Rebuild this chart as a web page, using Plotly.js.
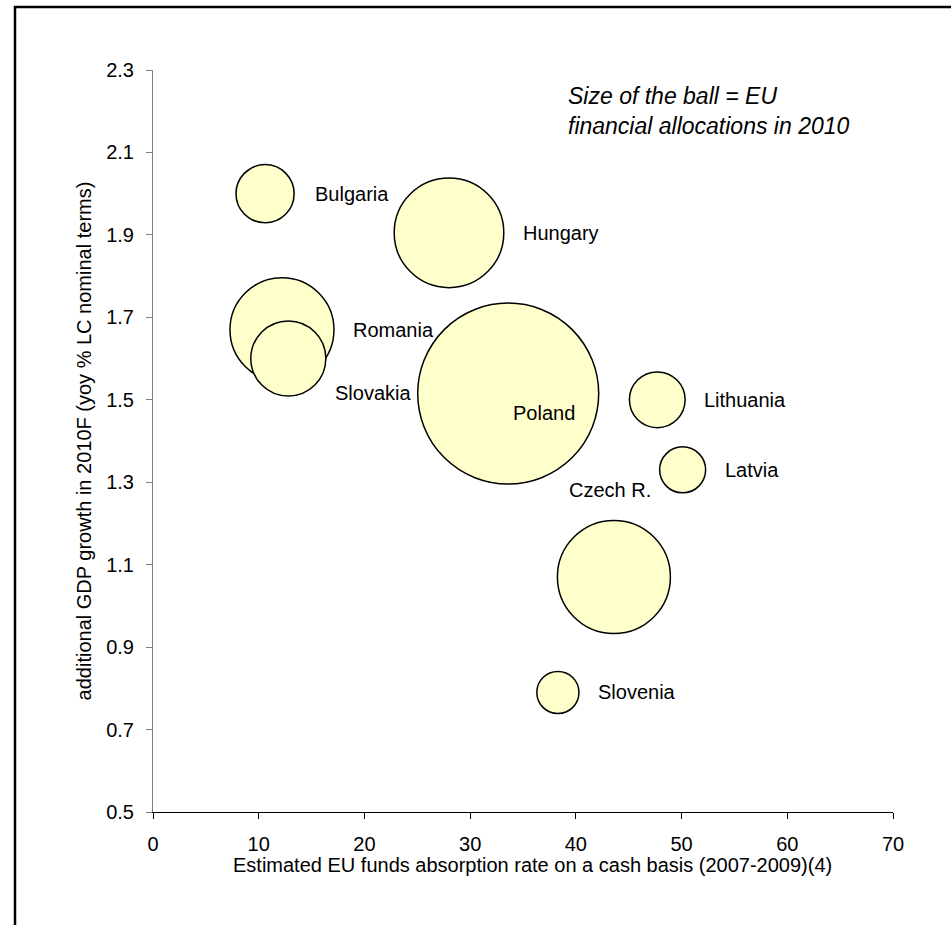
<!DOCTYPE html>
<html>
<head>
<meta charset="utf-8">
<script src="https://cdn.plot.ly/plotly-3.0.1.min.js"></script>
<style>html,body{margin:0;padding:0;background:#fff;}#chart{width:951px;height:925px;}</style>
</head>
<body>
<div id="chart"></div>
<script>
// Data
const countries = ["Bulgaria", "Hungary", "Romania", "Slovakia", "Poland", "Lithuania", "Latvia", "Czech R.", "Slovenia"];
const absorptionRate = [10.6, 28.0, 12.2, 12.8, 33.6, 47.7, 50.1, 43.6, 38.3];
const gdpGrowth = [2.00, 1.905, 1.67, 1.60, 1.515, 1.50, 1.33, 1.07, 0.79];
const euAllocations = [0.99, 3.52, 3.17, 1.65, 9.6, 0.91, 0.62, 3.74, 0.52];
const xTicks = [0, 10, 20, 30, 40, 50, 60, 70];
const yTicks = [0.5, 0.7, 0.9, 1.1, 1.3, 1.5, 1.7, 1.9, 2.1, 2.3];
const xTitle = "Estimated EU funds absorption rate on a cash basis (2007-2009)(4)";
const yTitle = "additional GDP growth in 2010F (yoy % LC nominal terms)";

// Label placement (styling, px offsets from bubble centre)
const labelAnchor = ["left", "left", "left", "left", "center", "left", "left", "center", "left"];
const labelDx = [48, 72, 69, 45, 36, 45, 40, -4, 38];
const labelDy = [0, 0, 0, -34, -19, 0, 0, 87, 0];

const FONT = "Arial, 'Liberation Sans', sans-serif";
const maxDiameter = 181;

const trace = {
  type: "scatter",
  mode: "markers",
  x: absorptionRate,
  y: gdpGrowth,
  text: countries,
  cliponaxis: false,
  hoverinfo: "text",
  marker: {
    size: euAllocations,
    sizemode: "area",
    sizeref: 2 * Math.max(...euAllocations) / (maxDiameter * maxDiameter),
    color: "#FFFFCC",
    opacity: 1,
    line: { color: "#000000", width: 1.5 }
  },
  showlegend: false
};

const annotations = countries.map((c, i) => ({
  x: absorptionRate[i], y: gdpGrowth[i], xref: "x", yref: "y",
  text: c, showarrow: false, xanchor: labelAnchor[i], yanchor: "middle",
  xshift: labelDx[i], yshift: labelDy[i],
  font: { family: FONT, size: 20, color: "#000" }
}));
annotations.push({
  xref: "paper", yref: "paper", x: 0.558, y: 0.945,
  xanchor: "left", yanchor: "middle", align: "left", showarrow: false,
  text: "<i>Size of the ball = EU<br>financial allocations in 2010</i>",
  font: { family: FONT, size: 23, color: "#000" }
});
annotations.push({
  xref: "paper", yref: "paper", x: (532 - 153) / 740, y: (812 - 865) / 742,
  xanchor: "center", yanchor: "middle", showarrow: false,
  text: xTitle, font: { family: FONT, size: 20, color: "#000" }
});

const layout = {
  width: 951, height: 925,
  margin: { l: 153, r: 58, t: 70, b: 113 },
  paper_bgcolor: "#fff", plot_bgcolor: "#fff",
  font: { family: FONT, size: 20, color: "#000" },
  xaxis: {
    range: [0, 70], tickvals: xTicks, ticktext: xTicks.map(String),
    showgrid: false, zeroline: false, showline: true, linecolor: "#000", linewidth: 1,
    ticks: "outside", ticklen: 6, tickcolor: "#000", ticklabelstandoff: 8,
    tickfont: { family: FONT, size: 20, color: "#000" },
    fixedrange: true
  },
  yaxis: {
    range: [0.5, 2.3], tickvals: yTicks, ticktext: yTicks.map(v => v.toFixed(1)),
    showgrid: false, zeroline: false, showline: true, linecolor: "#808080", linewidth: 1,
    ticks: "outside", ticklen: 6, tickcolor: "#808080", ticklabelstandoff: 8,
    tickfont: { family: FONT, size: 20, color: "#000" },
    title: { text: yTitle, font: { family: FONT, size: 20, color: "#000" }, standoff: 9 },
    fixedrange: true
  },
  annotations: annotations,
  shapes: [
    { type: "line", xref: "paper", yref: "paper", x0: (15 - 153) / 740, x1: (15 - 153) / 740, y0: (812 - 6) / 742, y1: (812 - 940) / 742, line: { color: "#000", width: 2.5 } },
    { type: "line", xref: "paper", yref: "paper", x0: (14 - 153) / 740, x1: (960 - 153) / 740, y0: (812 - 7) / 742, y1: (812 - 7) / 742, line: { color: "#000", width: 2.5 } }
  ]
};

Plotly.newPlot("chart", [trace], layout, { staticPlot: true, displayModeBar: false });
</script>
</body>
</html>
